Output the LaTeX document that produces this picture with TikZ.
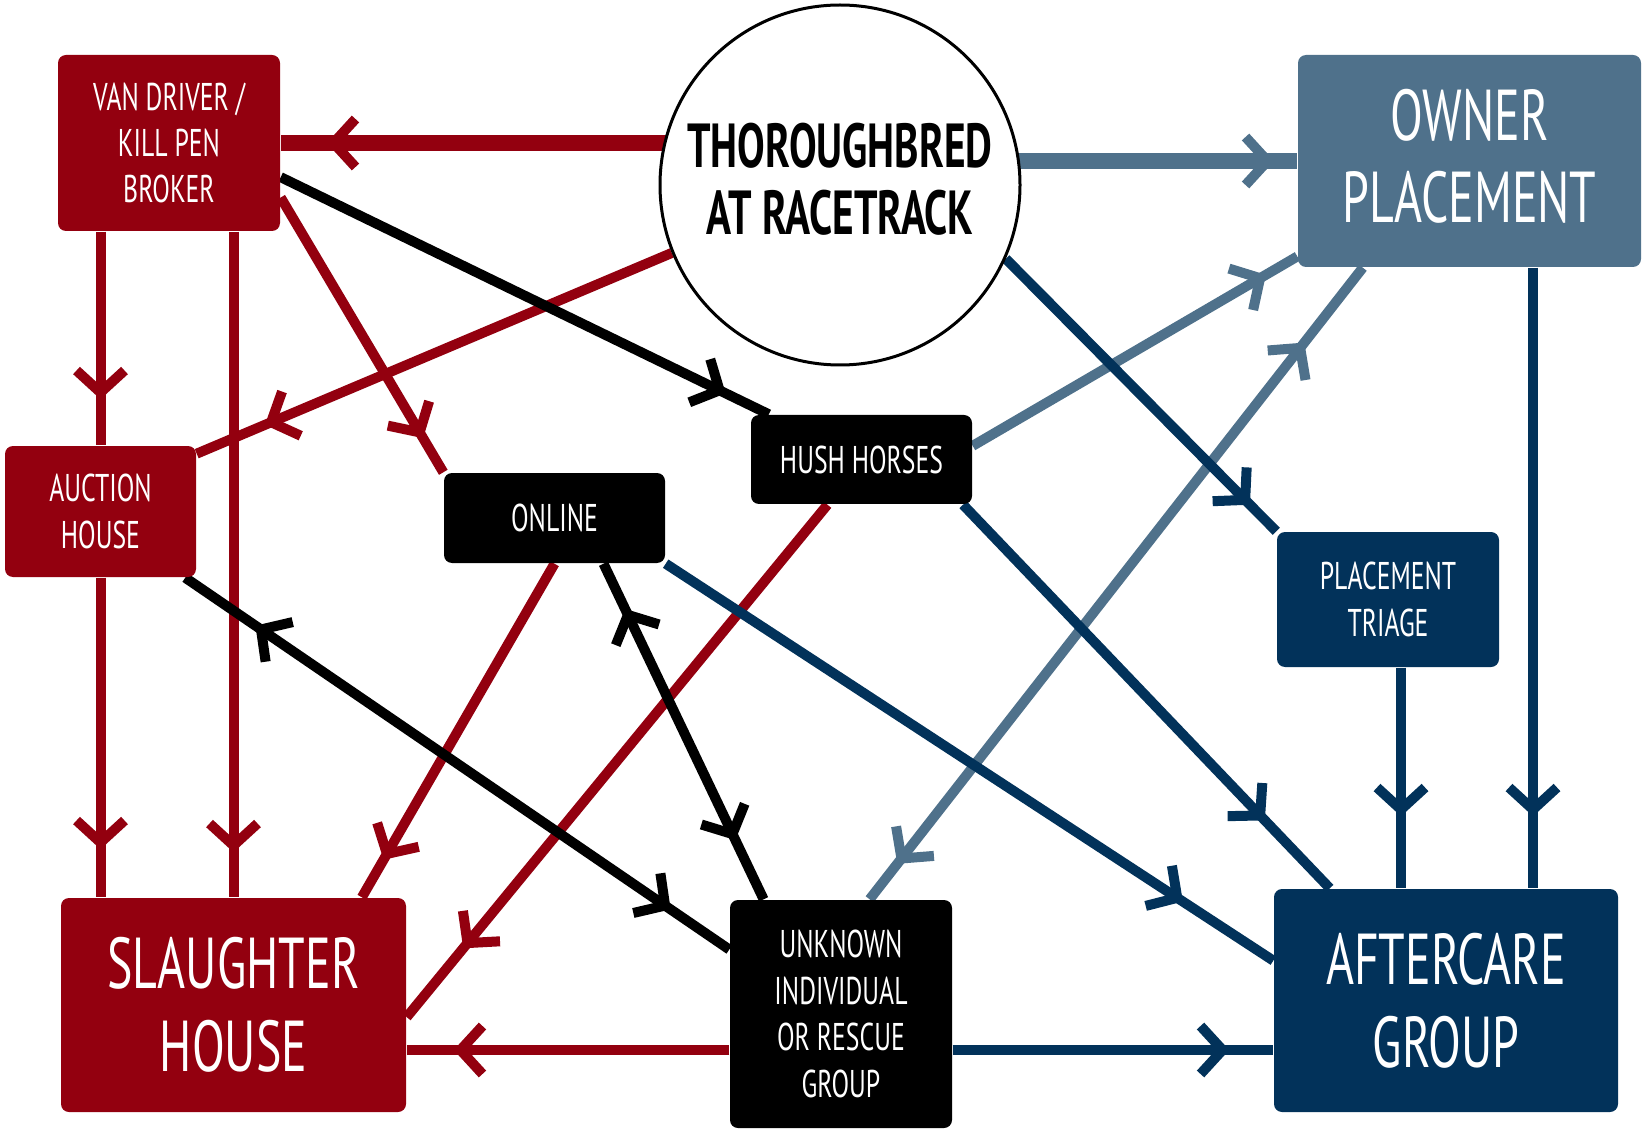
\documentclass[tikz,border=0pt]{standalone}
\usepackage{fontspec}
\setmainfont{PT Sans}[FakeStretch=0.665]
\usepackage{tikz}
\usepackage{xcolor}
\definecolor{killred}{HTML}{93000F}
\definecolor{ownerblue}{HTML}{4F718B}
\definecolor{carenavy}{HTML}{02325A}
\usetikzlibrary{arrows.meta}
\usetikzlibrary{decorations.markings,backgrounds}
\tikzset{chev/.tip={Straight Barb[length=0.22cm, width=0.48cm, line width=0.1cm]}}
\tikzset{fwd/.style={postaction={decorate}, decoration={markings, mark=at position -#1 with {\arrow{chev}}}}}
\tikzset{both/.style 2 args={postaction={decorate}, decoration={markings,
    mark=at position #1 with {\arrowreversed{chev}}, mark=at position -#2 with {\arrow{chev}}}}}
\tikzstyle{link} = [line width=0.1cm]
\tikzstyle{wide} = [line width=0.16cm]
\tikzstyle{box} = [rectangle, rounded corners=0.08cm, inner sep=0pt, align=center, text=white]
\tikzstyle{small} = [font=\fontsize{11}{13.2}\selectfont]
\tikzstyle{big} = [font=\fontsize{20.5}{23.5}\selectfont]

\begin{document}
\begin{tikzpicture}[x=0.1mm, y=-0.1mm]
\useasboundingbox (0,0) rectangle (1644,1131);

\node[circle, draw, fill=white, line width=0.03cm, minimum size=3.6cm, inner sep=0pt, align=center, text depth=0.12cm,
    font=\bfseries\fontsize{17.7}{19}\selectfont] (track) at (840,185) {THOROUGHBRED\\AT RACETRACK};
\node[box, small, fill=killred, minimum width=2.22cm, minimum height=1.76cm] (van) at (169,143) {VAN DRIVER /\\KILL PEN\\BROKER};
\node[box, big, fill=ownerblue, minimum width=3.43cm, minimum height=2.12cm, text depth=0.1cm] (owner) at (1469.5,161) {OWNER\\PLACEMENT};
\node[box, small, fill=killred, minimum width=1.91cm, minimum height=1.31cm] (auction) at (100.5,511.5) {AUCTION\\HOUSE};
\node[box, small, fill=black, minimum width=2.21cm, minimum height=0.90cm] (online) at (554.5,518) {ONLINE};
\node[box, small, fill=black, minimum width=2.21cm, minimum height=0.89cm] (hush) at (861.5,459.5) {HUSH HORSES};
\node[box, small, fill=carenavy, minimum width=2.22cm, minimum height=1.35cm] (triage) at (1388,599.5) {PLACEMENT\\TRIAGE};
\node[box, big, fill=killred, minimum width=3.45cm, minimum height=2.14cm] (slaughter) at (233.5,1005) {SLAUGHTER\\HOUSE};
\node[box, small, fill=black, minimum width=2.22cm, minimum height=2.28cm] (unknown) at (841,1014) {UNKNOWN\\INDIVIDUAL\\OR RESCUE\\GROUP};
\node[box, big, fill=carenavy, minimum width=3.44cm, minimum height=2.23cm] (aftercare) at (1446,1000.5) {AFTERCARE\\GROUP};

\begin{pgfonlayer}{background}
% red: toward slaughter
\draw[wide, killred, fwd=0.46cm] (track |- van.east) -- (van.east);
\draw[link, killred, fwd=0.46cm] (auction.north |- van.south) -- (auction.north);
\draw[link, killred, fwd=0.48cm] (auction.south) -- (auction.south |- slaughter.north);
\draw[link, killred, fwd=0.45cm] (slaughter.north |- van.south) -- (slaughter.north);
\draw[link, killred, fwd=0.39cm] (van.-26) -- (online.north west);
\draw[link, killred, fwd=0.74cm] (track.202) -- (auction.31);
\draw[link, killred, fwd=0.43cm] (online.south) -- (slaughter.40);
\draw[link, killred, fwd=0.89cm] (hush.233) -- (slaughter.-4);
\draw[link, killred, fwd=0.47cm] ([yshift=-0.36cm]unknown.west) -- ([yshift=-0.36cm]unknown.west -| slaughter.east);
% black
\draw[link, black, fwd=0.48cm] (van.-17) -- (hush.154);
\draw[link, black, both={0.85cm}{0.71cm}] (auction.-38) -- (unknown.150);
\draw[link, black, both={0.50cm}{0.65cm}] (online.-43) -- (unknown.124);
% blue: toward aftercare
\draw[wide, ownerblue, fwd=0.23cm] (track |- owner.west) -- (owner.west);
\draw[link, ownerblue, fwd=0.36cm] (hush.7) -- (owner.209);
\draw[link, ownerblue, both={0.95cm}{0.45cm}] (owner.225) -- (unknown.76);
\draw[link, carenavy, fwd=1.08cm] (online.south east) -- (aftercare.167);
\draw[link, carenavy, fwd=0.94cm] (hush.-24) -- (aftercare.136);
\draw[link, carenavy, fwd=0.36cm] (track.-24) -- (triage.north west);
\draw[link, carenavy, fwd=0.72cm] ([xshift=0.87cm]aftercare.north |- owner.south) -- ([xshift=0.87cm]aftercare.north);
\draw[link, carenavy, fwd=0.72cm] ([xshift=0.13cm]triage.south) -- ([xshift=0.13cm]triage.south |- aftercare.north);
\draw[link, carenavy, fwd=0.44cm] ([yshift=-0.36cm]unknown.east) -- ([yshift=-0.36cm]unknown.east -| aftercare.west);
\end{pgfonlayer}
\end{tikzpicture}
\end{document}
